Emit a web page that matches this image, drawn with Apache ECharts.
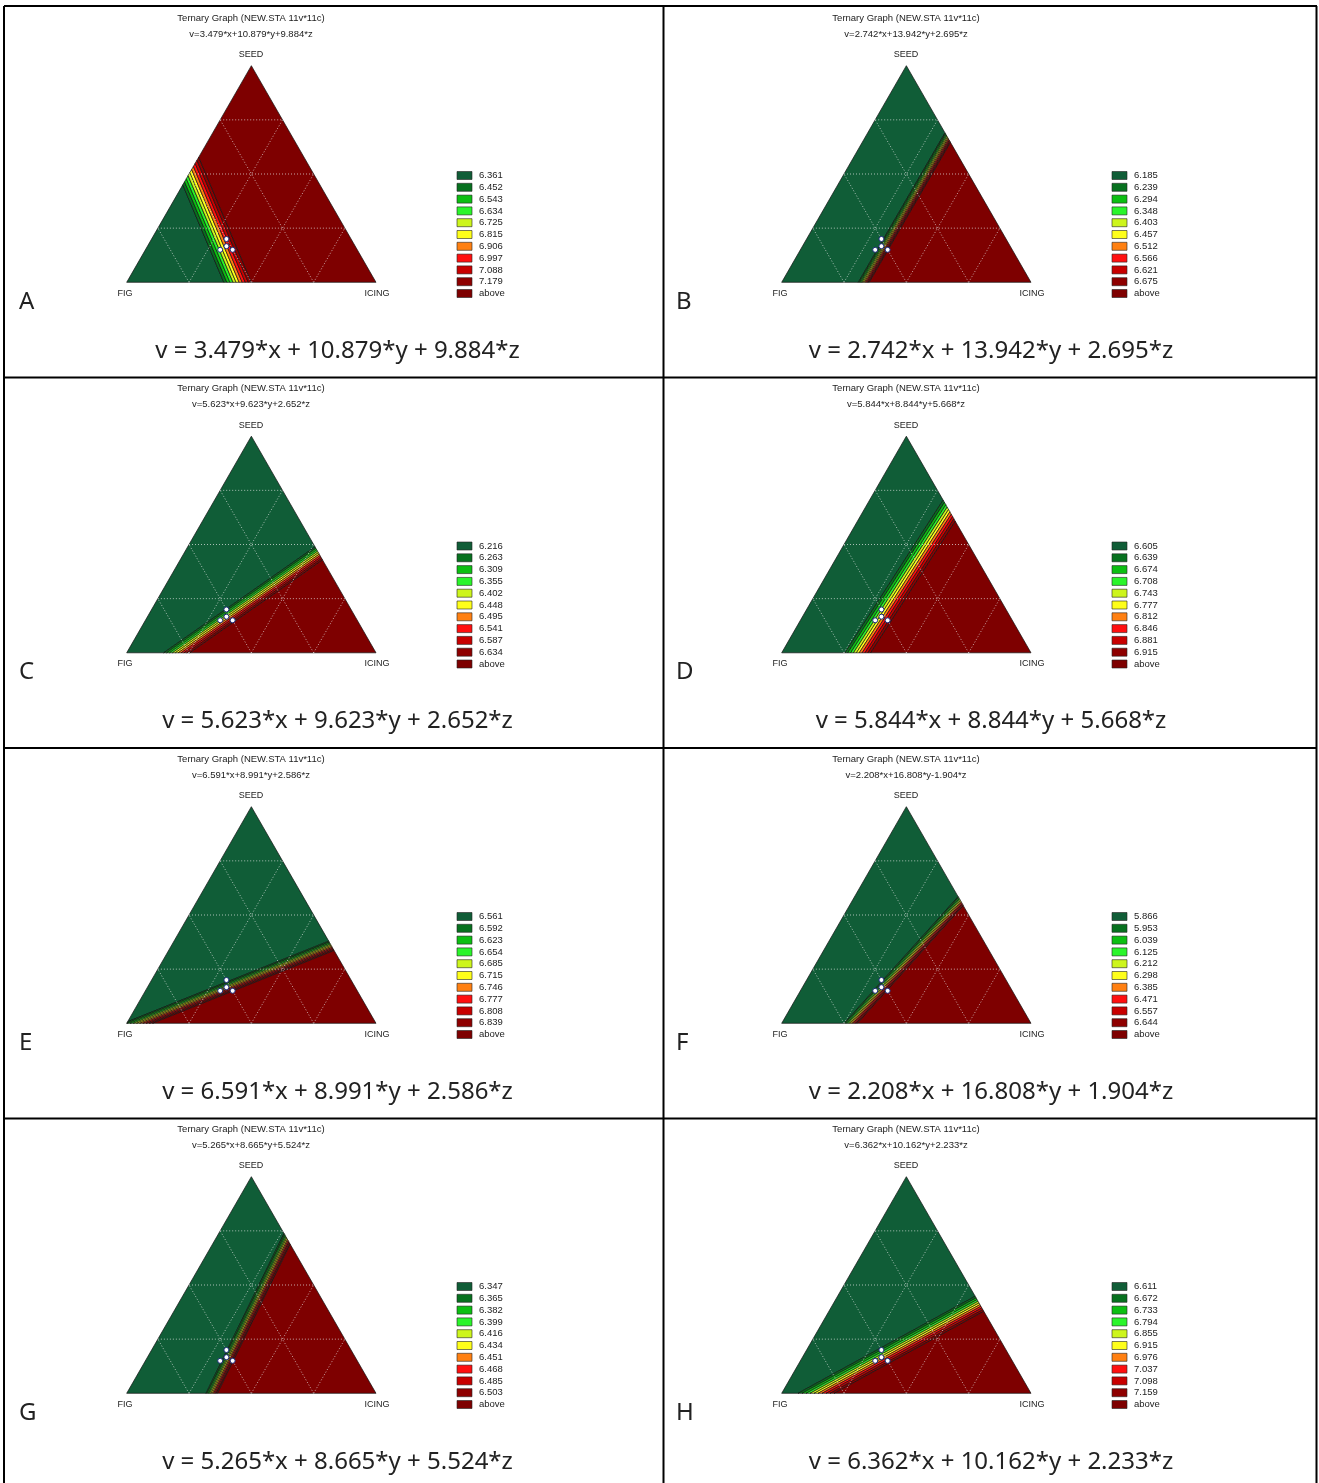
<!DOCTYPE html>
<html>
<head>
<meta charset="utf-8">
<script src="https://cdn.jsdelivr.net/npm/echarts@6/dist/echarts.min.js"></script>
<style>
html, body { margin: 0; padding: 0; background: #fff; }
#main { width: 1319px; height: 1483px; }
</style>
</head>
<body>
<div id="main"></div>
<script>
// panel letters and the fitted models v = a*x + b*y + c*z  (x = FIG, y = ICING, z = SEED)
var panelNames = ['A', 'B', 'C', 'D', 'E', 'F', 'G', 'H'];
var coefX = [3.479, 2.742, 5.623, 5.844, 6.591, 2.208, 5.265, 6.362];
var coefY = [10.879, 13.942, 9.623, 8.844, 8.991, 16.808, 8.665, 10.162];
var coefZ = [9.884, 2.695, 2.652, 5.668, 2.586, -1.904, 5.524, 2.233];
// z coefficient as typed in the caption under each graph
var captionZ = [9.884, 2.695, 2.652, 5.668, 2.586, 1.904, 5.524, 2.233];

// contour levels shown in each legend (last class is "above")
var levels = [
  [6.361, 6.452, 6.543, 6.634, 6.725, 6.815, 6.906, 6.997, 7.088, 7.179],
  [6.185, 6.239, 6.294, 6.348, 6.403, 6.457, 6.512, 6.566, 6.621, 6.675],
  [6.216, 6.263, 6.309, 6.355, 6.402, 6.448, 6.495, 6.541, 6.587, 6.634],
  [6.605, 6.639, 6.674, 6.708, 6.743, 6.777, 6.812, 6.846, 6.881, 6.915],
  [6.561, 6.592, 6.623, 6.654, 6.685, 6.715, 6.746, 6.777, 6.808, 6.839],
  [5.866, 5.953, 6.039, 6.125, 6.212, 6.298, 6.385, 6.471, 6.557, 6.644],
  [6.347, 6.365, 6.382, 6.399, 6.416, 6.434, 6.451, 6.468, 6.485, 6.503],
  [6.611, 6.672, 6.733, 6.794, 6.855, 6.915, 6.976, 7.037, 7.098, 7.159]
];
var levelColors = ['#105d37', '#07711f', '#0cbf12', '#2af52a', '#cdf51c', '#ffff1a',
                   '#ff8012', '#ff1010', '#c80000', '#8e0000', '#7e0000'];

var gridSteps = [0.25, 0.5, 0.75];
// design points as [FIG, ICING, SEED]
var designFig = [0.55, 0.50, 0.50, 0.5167];
var designIcing = [0.30, 0.35, 0.30, 0.3167];
var designSeed = [0.15, 0.15, 0.20, 0.1667];

var rowOff = [0, 370.5, 741, 1111];
var smallFont = '9px "Liberation Sans", Arial, sans-serif';
var titleFont = '9.5px "Liberation Sans", Arial, sans-serif';
var bigFont = '24px "Noto Sans", "Open Sans", sans-serif';

var myChart = echarts.init(document.getElementById('main'));

// ternary -> plot coords (FIG bottom left, ICING bottom right, SEED top)
function toXY(fig, icing, seed) {
  return [icing + seed / 2, seed];
}
function clipHalf(poly, fn, lv, keepAbove) {
  var out = [];
  for (var i = 0; i < poly.length; i++) {
    var p = poly[i], q = poly[(i + 1) % poly.length];
    var dp = keepAbove ? fn(p) - lv : lv - fn(p);
    var dq = keepAbove ? fn(q) - lv : lv - fn(q);
    if (dp >= 0) out.push(p);
    if ((dp >= 0) !== (dq >= 0)) {
      var t = dp / (dp - dq);
      out.push([p[0] + t * (q[0] - p[0]), p[1] + t * (q[1] - p[1])]);
    }
  }
  return out;
}
function fmt(v) { return v.toFixed(3); }

var grids = [], xAxes = [], yAxes = [], series = [], graphics = [];

panelNames.forEach(function (name, p) {
  var col = p % 2, row = Math.floor(p / 2);
  var ox = col ? 655 : 0, oy = rowOff[row];
  grids.push({ left: 126.7 + ox, top: 65.7 + oy, width: 249.3, height: 216.6 });
  xAxes.push({ type: 'value', gridIndex: p, min: 0, max: 1, show: false });
  yAxes.push({ type: 'value', gridIndex: p, min: 0, max: 1, show: false });

  var field = function (pt) {
    var seed = pt[1], icing = pt[0] - pt[1] / 2, fig = 1 - icing - seed;
    return coefX[p] * fig + coefY[p] * icing + coefZ[p] * seed;
  };
  var lv = levels[p];

  // contour bands
  series.push({
    type: 'custom',
    xAxisIndex: p, yAxisIndex: p,
    silent: true,
    data: levelColors.map(function (c, k) { return [k, k]; }),
    renderItem: function (params, api) {
      var k = api.value(0);
      var poly = [[0, 0], [1, 0], [0.5, 1]];
      if (k > 0) poly = clipHalf(poly, field, lv[k - 1], true);
      if (k < lv.length && poly.length) poly = clipHalf(poly, field, lv[k], false);
      if (poly.length < 3) return null;
      return {
        type: 'polygon',
        shape: { points: poly.map(function (pt) { return api.coord(pt); }) },
        style: { fill: levelColors[k], stroke: '#111', lineWidth: 0.7 }
      };
    }
  });

  // dotted ternary grid
  var gl = [];
  [0, 1, 2].forEach(function (dir) {
    gridSteps.forEach(function (t) { gl.push([dir, t]); });
  });
  series.push({
    type: 'custom',
    xAxisIndex: p, yAxisIndex: p,
    silent: true,
    data: gl,
    renderItem: function (params, api) {
      var dir = api.value(0), t = api.value(1), a, b;
      if (dir === 0) { a = toXY(1 - t, 0, t); b = toXY(0, 1 - t, t); }
      else if (dir === 1) { a = toXY(1 - t, t, 0); b = toXY(0, t, 1 - t); }
      else { a = toXY(t, 1 - t, 0); b = toXY(t, 0, 1 - t); }
      var pa = api.coord(a), pb = api.coord(b);
      return {
        type: 'line',
        shape: { x1: pa[0], y1: pa[1], x2: pb[0], y2: pb[1] },
        style: { stroke: 'rgba(235,235,235,0.7)', lineWidth: 1, lineDash: [1, 2] }
      };
    }
  });

  // design points
  series.push({
    type: 'scatter',
    xAxisIndex: p, yAxisIndex: p,
    silent: true,
    symbol: 'circle',
    symbolSize: 5,
    itemStyle: { color: '#fff', borderColor: '#1b2a7a', borderWidth: 1, opacity: 1 },
    data: designFig.map(function (f, i) { return toXY(f, designIcing[i], designSeed[i]); })
  });

  // titles and vertex names
  var titleEq = 'v=' + fmt(coefX[p]) + '*x+' + fmt(coefY[p]) + '*y' + (coefZ[p] < 0 ? '' : '+') + fmt(coefZ[p]) + '*z';
  graphics.push(
    { type: 'text', x: 251 + ox, y: 18 + oy, style: { text: 'Ternary Graph (NEW.STA 11v*11c)', font: titleFont, fill: '#222', align: 'center', verticalAlign: 'middle' } },
    { type: 'text', x: 251 + ox, y: 34 + oy, style: { text: titleEq, font: titleFont, fill: '#222', align: 'center', verticalAlign: 'middle' } },
    { type: 'text', x: 251 + ox, y: 55 + oy, style: { text: 'SEED', font: smallFont, fill: '#222', align: 'center', verticalAlign: 'middle' } },
    { type: 'text', x: 125 + ox, y: 293.5 + oy, style: { text: 'FIG', font: smallFont, fill: '#222', align: 'center', verticalAlign: 'middle' } },
    { type: 'text', x: 377 + ox, y: 293.5 + oy, style: { text: 'ICING', font: smallFont, fill: '#222', align: 'center', verticalAlign: 'middle' } }
  );

  // legend
  levelColors.forEach(function (c, k) {
    var ly = 175.5 + oy + k * 11.8;
    graphics.push(
      { type: 'rect', shape: { x: 457 + ox, y: ly - 4, width: 15, height: 8 }, style: { fill: c, stroke: '#222', lineWidth: 0.6 } },
      { type: 'text', x: 479 + ox, y: ly, style: { text: k < lv.length ? fmt(lv[k]) : 'above', font: titleFont, fill: '#222', align: 'left', verticalAlign: 'middle' } }
    );
  });

  // panel letter and caption
  var caption = 'v = ' + fmt(coefX[p]) + '*x + ' + fmt(coefY[p]) + '*y + ' + fmt(captionZ[p]) + '*z';
  graphics.push(
    { type: 'text', x: col ? 676 : 19, y: 302 + oy, style: { text: name, font: bigFont, fill: '#222', align: 'left', verticalAlign: 'middle' } },
    { type: 'text', x: col ? 991 : 337.5, y: 351 + oy, style: { text: caption, font: bigFont, fill: '#222', align: 'center', verticalAlign: 'middle' } }
  );
});

// table rules
var rules = [[4, 6, 1317, 6], [4, 377.5, 1317, 377.5], [4, 748, 1317, 748], [4, 1118.5, 1317, 1118.5],
             [4, 6, 4, 1483], [663.5, 6, 663.5, 1483], [1316.5, 6, 1316.5, 1483]];
rules.forEach(function (r) {
  graphics.push({ type: 'line', shape: { x1: r[0], y1: r[1], x2: r[2], y2: r[3] }, style: { stroke: '#000', lineWidth: 2 } });
});

option = {
  backgroundColor: '#fff',
  animation: false,
  grid: grids,
  xAxis: xAxes,
  yAxis: yAxes,
  series: series,
  graphic: graphics
};
myChart.setOption(option);
</script>
</body>
</html>
